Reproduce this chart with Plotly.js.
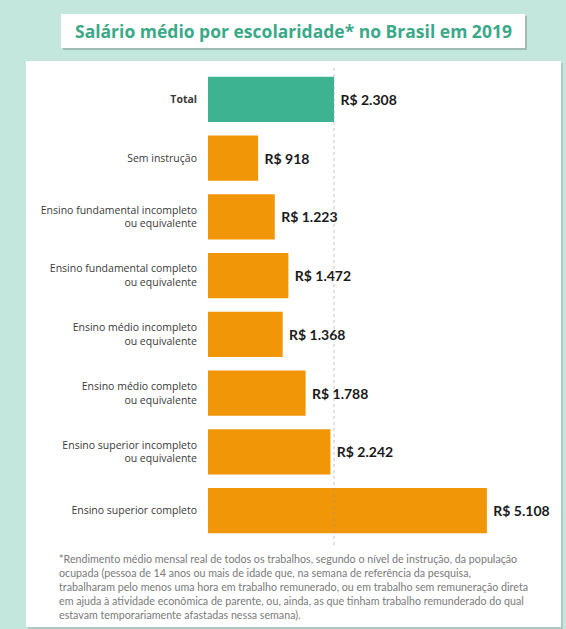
<!DOCTYPE html>
<html>
<head>
<meta charset="utf-8">
<script src="https://cdn.plot.ly/plotly-3.0.1.min.js"></script>
<style>html,body{margin:0;padding:0;background:#c3e6dd;}#chart{width:566px;height:629px;}</style>
</head>
<body>
<div id="chart"></div>
<script>
const categories = [
  'Total',
  'Sem instrução',
  'Ensino fundamental incompleto ou equivalente',
  'Ensino fundamental completo ou equivalente',
  'Ensino médio incompleto ou equivalente',
  'Ensino médio completo ou equivalente',
  'Ensino superior incompleto ou equivalente',
  'Ensino superior completo'
];
const tickLabels = [
  '<b>Total</b>',
  'Sem instrução',
  'Ensino fundamental incompleto<br>ou equivalente',
  'Ensino fundamental completo<br>ou equivalente',
  'Ensino médio incompleto<br>ou equivalente',
  'Ensino médio completo<br>ou equivalente',
  'Ensino superior incompleto<br>ou equivalente',
  'Ensino superior completo'
];
const salaries = [2308, 918, 1223, 1472, 1368, 1788, 2242, 5108];
const titleText = 'Salário médio por escolaridade* no Brasil em 2019';
const footnoteLines = [
  '*Rendimento médio mensal real de todos os trabalhos, segundo o nível de instrução, da população',
  'ocupada (pessoa de 14 anos ou mais de idade que, na semana de referência da pesquisa,',
  'trabalharam pelo menos uma hora em trabalho remunerado, ou em trabalho sem remuneração direta',
  'em ajuda à atividade econômica de parente, ou, ainda, as que tinham trabalho remunderado do qual',
  'estavam temporariamente afastadas nessa semana).'
];

const W = 566, H = 629;
const M = {l: 208, r: 18, t: 70, b: 89};
const plotW = W - M.l - M.r, plotH = H - M.t - M.b;
const px = x => (x - M.l) / plotW;
const py = y => (H - M.b - y) / plotH;

const fmt = v => 'R$ ' + String(v).replace(/\B(?=(\d{3})+(?!\d))/g, '.');
const green = '#3db391', orange = '#f09607';
const FONT = 'Lato, "Open Sans", sans-serif';

const trace = {
  type: 'bar',
  orientation: 'h',
  y: categories,
  x: salaries,
  marker: {color: categories.map((c, i) => i === 0 ? green : orange), line: {width: 0}},
  text: salaries.map(v => '<b>\u00a0' + fmt(v) + '</b>'),
  textposition: 'outside',
  outsidetextfont: {family: 'Lato, "Open Sans", sans-serif', size: 14, color: '#1a1a1a'},
  cliponaxis: false,
  hoverinfo: 'none'
};

const shapes = [
  {type:'rect', xref:'paper', yref:'paper', x0:px(28), x1:px(563), y0:py(63), y1:py(629), fillcolor:'rgba(0,0,0,0.12)', line:{width:0}, layer:'below'},
  {type:'rect', xref:'paper', yref:'paper', x0:px(26), x1:px(561), y0:py(61), y1:py(627), fillcolor:'#ffffff', line:{width:0}, layer:'below'},
  {type:'rect', xref:'paper', yref:'paper', x0:px(63), x1:px(527), y0:py(16), y1:py(50), fillcolor:'rgba(0,0,0,0.18)', line:{width:0}, layer:'below'},
  {type:'rect', xref:'paper', yref:'paper', x0:px(61), x1:px(525), y0:py(14), y1:py(48), fillcolor:'#ffffff', line:{width:0}, layer:'below'},
  {type:'line', xref:'x', yref:'paper', x0:salaries[0], x1:salaries[0], y0:py(545), y1:py(65), line:{color:'rgba(150,150,150,0.55)', width:1, dash:'dot'}, layer:'above'}
];

const annotations = [
  {xref:'paper', yref:'paper', x:px(293), y:py(31), xanchor:'center', yanchor:'middle', showarrow:false,
   text:'<b>' + titleText + '</b>', font:{family:'"Open Sans", Lato, sans-serif', size:17.5, color:'#3aa987'}}
].concat(footnoteLines.map((t, i) => ({
  xref:'paper', yref:'paper', x:px(57), y:py(558 + i * 14), xanchor:'left', yanchor:'middle', showarrow:false,
  text: t, font:{family: FONT, size: 10.7, color:'#7a7a7a'}
})));

const layout = {
  width: W, height: H,
  margin: M,
  paper_bgcolor: '#c3e6dd',
  plot_bgcolor: 'rgba(0,0,0,0)',
  showlegend: false,
  bargap: 0.23,
  xaxis: {range: [0, (plotW) / 0.0546], visible: false, fixedrange: true},
  yaxis: {
    type: 'category', autorange: 'reversed',
    tickvals: categories, ticktext: tickLabels,
    tickfont: {family: '"Open Sans", Lato, sans-serif', size: 10.5, color: '#3a3a3a'},
    ticks: '', showline: false, showgrid: false, zeroline: false,
    ticklabelstandoff: 10, fixedrange: true
  },
  shapes: shapes,
  annotations: annotations
};

Plotly.newPlot('chart', [trace], layout, {displayModeBar: false, staticPlot: true});
</script>
</body>
</html>
